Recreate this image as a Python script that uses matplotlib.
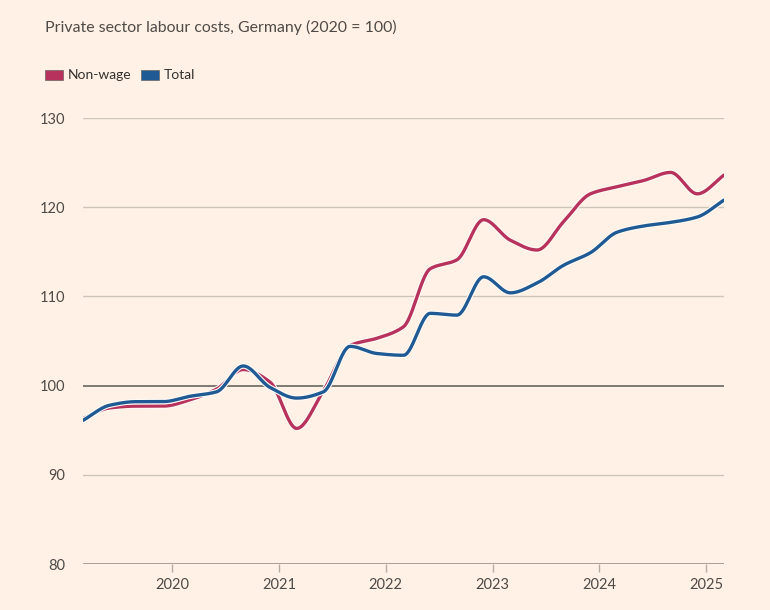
import numpy as np
import matplotlib
matplotlib.use("Agg")
import matplotlib.pyplot as plt
import matplotlib.patheffects as pe
from matplotlib.patches import Rectangle

# ---- data (quarterly, 2019Q1 .. 2025Q1) ----
quarters = [2019 + 1/6 + 0.25 * i for i in range(25)]
non_wage = [96.3, 97.5, 97.7, 97.7, 98.4, 99.6, 101.8, 100.4, 95.2, 99.4,
            104.5, 105.3, 106.6, 113.1, 114.1, 118.6, 116.3, 115.2, 118.4, 121.5,
            122.3, 123.0, 123.9, 121.5, 123.6]
total = [96.1, 97.8, 98.2, 98.2, 98.8, 99.3, 102.2, 99.8, 98.6, 99.3,
         104.4, 103.6, 103.4, 108.1, 107.9, 112.2, 110.4, 111.5, 113.5, 114.9,
         117.2, 117.9, 118.3, 118.9, 120.8]
yticks = [80, 90, 100, 110, 120, 130]
xticks = [2020, 2021, 2022, 2023, 2024, 2025]
series_names = ["Non-wage", "Total"]

BG = "#fff1e5"
RED = "#b7325c"
BLUE = "#1f5a94"
TXT = "#4f4a47"
GRID = "#cfc4b8"

def monotone(x, y, n=40):
    x = np.asarray(x, float); y = np.asarray(y, float)
    h = np.diff(x); d = np.diff(y) / h
    m = np.zeros_like(y)
    m[0] = d[0]; m[-1] = d[-1]
    for i in range(1, len(y) - 1):
        if d[i-1] * d[i] <= 0:
            m[i] = 0
        else:
            w1 = 2*h[i] + h[i-1]; w2 = h[i] + 2*h[i-1]
            m[i] = (w1 + w2) / (w1/d[i-1] + w2/d[i])
    xs, ys = [], []
    for i in range(len(x) - 1):
        t = np.linspace(0, 1, n, endpoint=False)
        h00 = 2*t**3 - 3*t**2 + 1; h10 = t**3 - 2*t**2 + t
        h01 = -2*t**3 + 3*t**2; h11 = t**3 - t**2
        xs.append(x[i] + t*h[i])
        ys.append(h00*y[i] + h10*h[i]*m[i] + h01*y[i+1] + h11*h[i]*m[i+1])
    xs.append([x[-1]]); ys.append([y[-1]])
    return np.concatenate(xs), np.concatenate(ys)

plt.rcParams['font.family'] = ['Lato', 'DejaVu Sans']

fig = plt.figure(figsize=(7.7, 6.1), dpi=100, facecolor=BG)
ax = fig.add_axes([83/770, 1 - 564/610, (724-83)/770, (564-118)/610])
ax.set_facecolor(BG)
ax.set_xlim(2019 + 1/6, 2025 + 1/6)
ax.set_ylim(80, 130)

for yv in yticks:
    if yv == 100:
        ax.axhline(yv, color="#75706b", lw=1.3, zorder=2)
    elif yv == 80:
        ax.axhline(yv, color="#9a928b", lw=1.2, zorder=2)
    else:
        ax.axhline(yv, color=GRID, lw=1.0, zorder=1)

for vals, col in [(non_wage, RED), (total, BLUE)]:
    xs, ys = monotone(quarters, vals)
    ax.plot(xs, ys, color=col, lw=2.4, solid_capstyle='round', zorder=3,
            path_effects=[pe.Stroke(linewidth=4.0, foreground="#fffaf5"), pe.Normal()])

for s in ax.spines.values():
    s.set_visible(False)
ax.set_yticks(yticks)
ax.set_yticklabels([str(v) for v in yticks])
ax.tick_params(axis='y', length=0, pad=13, labelsize=10.5, labelcolor=TXT)
ax.set_xticks(xticks)
ax.set_xticklabels([str(v) for v in xticks])
ax.tick_params(axis='x', length=6, width=1, color="#b3aaa2", pad=4, labelsize=10.5, labelcolor=TXT)

fig.text(45/770, 1 - 27/610, "Private sector labour costs, Germany (2020 = 100)",
         fontsize=11.45, color=TXT, va='center', ha='left')

# legend
lx = 45
for name, col in zip(series_names, [RED, BLUE]):
    fig.patches.append(Rectangle((lx/770, 1 - 79.5/610), 18/770, 9.5/610,
                                 transform=fig.transFigure, facecolor=col,
                                 edgecolor="#6a6360", lw=0.5))
    t = fig.text((lx + 23)/770, 1 - 75/610, name, fontsize=10, color="#33302e",
                 va='center', ha='left')
    fig.canvas.draw()
    bb = t.get_window_extent()
    lx = bb.x1 + 9

fig.savefig("out.png", dpi=100, facecolor=BG)
